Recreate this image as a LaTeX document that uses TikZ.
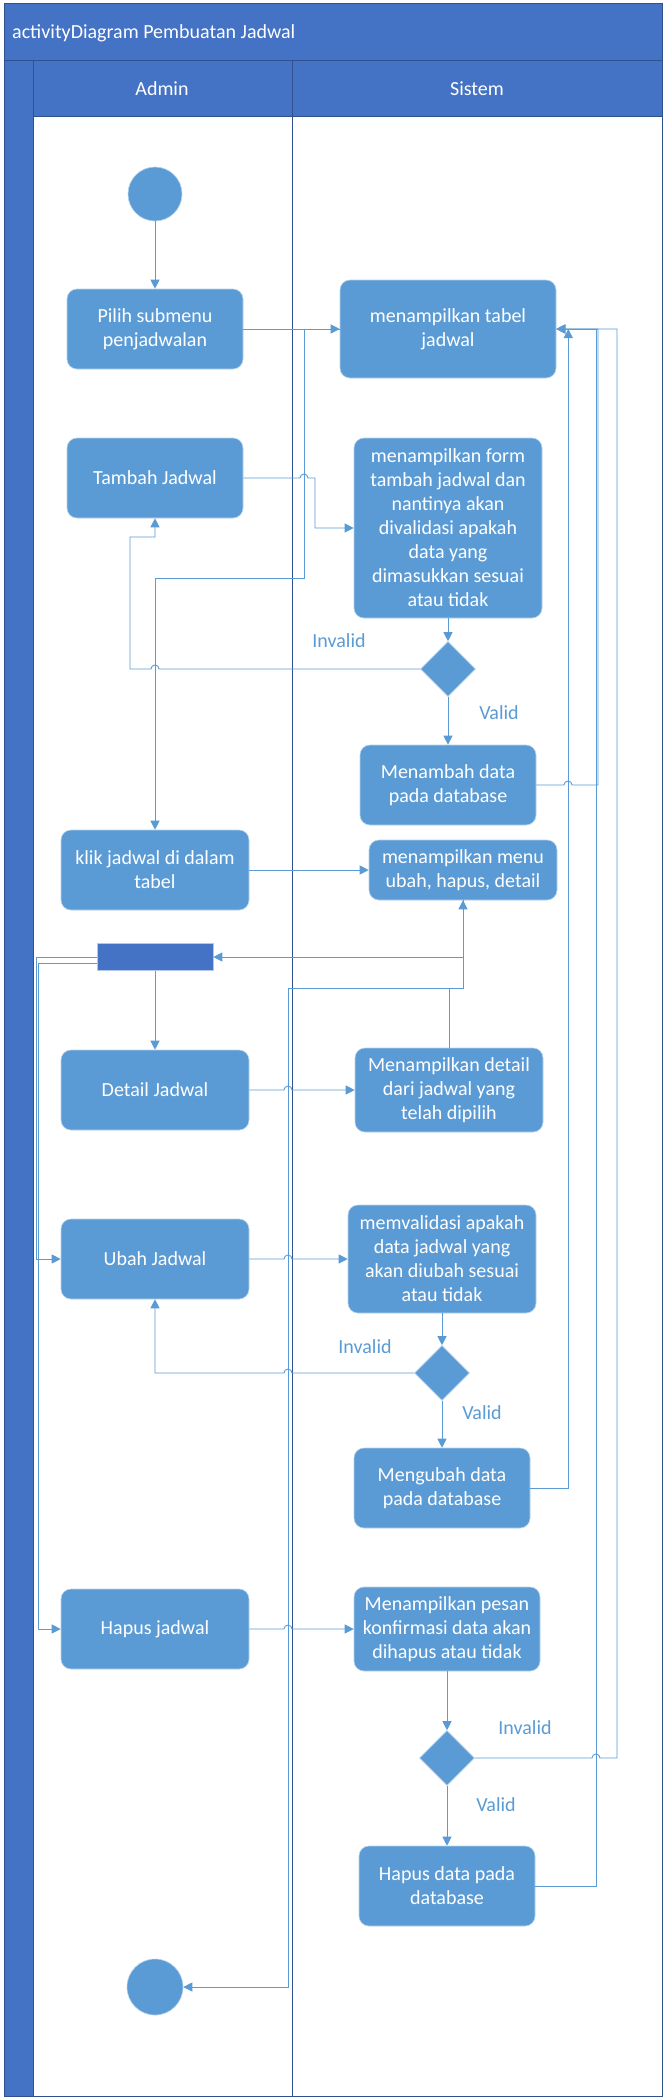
\documentclass[tikz,border=0pt]{standalone}
\usepackage{fontspec}
\setmainfont{Carlito}
\usetikzlibrary{arrows.meta,shapes.geometric}
\definecolor{hdr}{HTML}{4472C4}
\definecolor{boxc}{HTML}{5B9BD5}
\definecolor{poolline}{HTML}{2F528F}
\begin{document}
\begin{tikzpicture}[x=1pt,y=-1pt,font=\fontsize{20}{24}\selectfont,
  act/.style={rectangle, rounded corners=10pt, fill=boxc, draw=white!55!boxc, line width=0.6pt, text=white, align=center, inner sep=0pt},
  dec/.style={diamond, aspect=1, fill=boxc, draw=white!55!boxc, line width=0.6pt, minimum width=55pt, minimum height=55pt, inner sep=0pt},
  term/.style={circle, fill=boxc, draw=white!55!boxc, line width=0.6pt, inner sep=0pt},
  conn/.style={draw=boxc, line width=0.9pt, -{Triangle[length=9pt,width=9pt]}},
  lbl/.style={text=boxc, inner sep=0pt},
  pool/.style={draw=poolline, line width=1pt}]
\useasboundingbox (0,0) rectangle (664,2100);
\fill[white] (0,0) rectangle (664,2100);
% pool and lanes
\fill[hdr] (4,4) rectangle (662,117);
\fill[hdr] (4,61) rectangle (33,2096);
\draw[pool] (4,4) rectangle (662,2096);
\draw[pool] (4,61) -- (662,61);
\draw[pool] (33,61) -- (33,2096);
\draw[pool] (33,117) -- (662,117);
\draw[pool] (292,61) -- (292,2096);
\node[text=white, anchor=west, inner sep=0pt] (title) at (12,33) {activityDiagram Pembuatan Jadwal};
\node[text=white, inner sep=0pt] (adminlbl) at (162,89) {Admin};
\node[text=white, inner sep=0pt] (sistemlbl) at (477,89) {Sistem};
% nodes
\node[term, minimum size=54pt] (start) at (155,194) {};
\node[act, minimum width=176pt, minimum height=80pt] (pilih) at (155,329) {Pilih submenu\\penjadwalan};
\node[act, minimum width=216pt, minimum height=98pt] (tabel) at (448,329) {menampilkan tabel\\jadwal};
\node[act, minimum width=176pt, minimum height=80pt] (tambah) at (155,478) {Tambah Jadwal};
\node[act, minimum width=188pt, minimum height=180pt] (form) at (448,528) {menampilkan form\\tambah jadwal dan\\nantinya akan\\divalidasi apakah\\data yang\\dimasukkan sesuai\\atau tidak};
\node[dec] (d1) at (448,669) {};
\node[act, minimum width=176pt, minimum height=80pt] (menambah) at (448,785) {Menambah data\\pada database};
\node[act, minimum width=188pt, minimum height=80pt] (klik) at (155,870) {klik jadwal di dalam\\tabel};
\node[act, minimum width=188pt, minimum height=60pt] (menu) at (463,870) {menampilkan menu\\ubah, hapus, detail};
\node[rectangle, fill=hdr, draw=white!60!hdr, line width=0.6pt, minimum width=116pt, minimum height=27pt, inner sep=0pt] (fork) at (155,957) {};
\node[act, minimum width=188pt, minimum height=80pt] (detail) at (155,1090) {Detail Jadwal};
\node[act, minimum width=188pt, minimum height=84pt] (mdetail) at (449,1090) {Menampilkan detail\\dari jadwal yang\\telah dipilih};
\node[act, minimum width=188pt, minimum height=80pt] (ubah) at (155,1259) {Ubah Jadwal};
\node[act, minimum width=188pt, minimum height=108pt] (validasi) at (442,1259) {memvalidasi apakah\\data jadwal yang\\akan diubah sesuai\\atau tidak};
\node[dec] (d2) at (442,1373) {};
\node[act, minimum width=176pt, minimum height=80pt] (mengubah) at (442,1488) {Mengubah data\\pada database};
\node[act, minimum width=188pt, minimum height=80pt] (hapus) at (155,1629) {Hapus jadwal};
\node[act, minimum width=186pt, minimum height=84pt] (pesan) at (447,1629) {Menampilkan pesan\\konfirmasi data akan\\dihapus atau tidak};
\node[dec] (d3) at (447,1758) {};
\node[act, minimum width=176pt, minimum height=80pt] (hapusdata) at (447,1886) {Hapus data pada\\database};
\node[term, minimum size=56pt] (end) at (155,1987) {};
% labels
\node[lbl] (inv1) at (339,641) {Invalid};
\node[lbl] (val1) at (499,713) {Valid};
\node[lbl] (inv2) at (365,1347) {Invalid};
\node[lbl] (val2) at (482,1413) {Valid};
\node[lbl] (inv3) at (525,1728) {Invalid};
\node[lbl] (val3) at (496,1805) {Valid};
% connectors
\draw[conn] (start) -- (pilih);
\draw[conn] (pilih.east) -- (tabel.west);
\draw[conn] (tabel.west) -- (304,329) -- (304,578) -- (155,578) -- (klik.north);
\draw[conn] (tambah.east) -- (300,478) arc[start angle=180,end angle=0,radius=4pt] -- (315,478) -- (315,528) -- (form.west);
\draw[conn] (form.south) -- (d1.north);
\draw[conn] (d1.west) -- (159,669) arc[start angle=0,end angle=180,radius=4pt] -- (130,669) -- (130,537) -- (155,537) -- (tambah.south);
\draw[conn] (d1.south) -- (menambah.north);
\draw[conn] (menambah.east) -- (564,785) arc[start angle=180,end angle=0,radius=4pt] -- (598,785) |- (tabel.east);
\draw[conn] (klik.east) -- (menu.west);
\draw[conn] (menu.south) -- (463,957) -- (fork.east);
\draw[conn] (fork.south) -- (detail.north);
\draw[conn] (fork.west) -- (36,957) -- (36,1259) -- (ubah.west);
\draw[conn] ([yshift=-6pt]fork.west) -- (38,963) -- (38,1629) -- (hapus.west);
\draw[conn] (detail.east) -- (284,1090) arc[start angle=180,end angle=0,radius=4pt] -- (mdetail.west);
\draw[conn] (mdetail.north) -- (449,988) -- (463,988) -- (menu.south);
\draw[conn] (mdetail.north) -- (449,988) -- (288,988) -- (288,1987) -- (end.east);
\draw[conn] (ubah.east) -- (284,1259) arc[start angle=180,end angle=0,radius=4pt] -- (validasi.west);
\draw[conn] (validasi.south) -- (d2.north);
\draw[conn] (d2.west) -- (292,1373) arc[start angle=0,end angle=180,radius=4pt] -- (155,1373) -- (ubah.south);
\draw[conn] (d2.south) -- (mengubah.north);
\draw[conn] (mengubah.east) -| ([xshift=12pt]tabel.east);
\draw[conn] (hapus.east) -- (284,1629) arc[start angle=180,end angle=0,radius=4pt] -- (pesan.west);
\draw[conn] (pesan.south) -- (d3.north);
\draw[conn] (d3.east) -- (592,1758) arc[start angle=180,end angle=0,radius=4pt] -- (617,1758) |- (tabel.east);
\draw[conn] (d3.south) -- (hapusdata.north);
\draw[conn] (hapusdata.east) -- (596,1886) |- (tabel.east);
\end{tikzpicture}
\end{document}
